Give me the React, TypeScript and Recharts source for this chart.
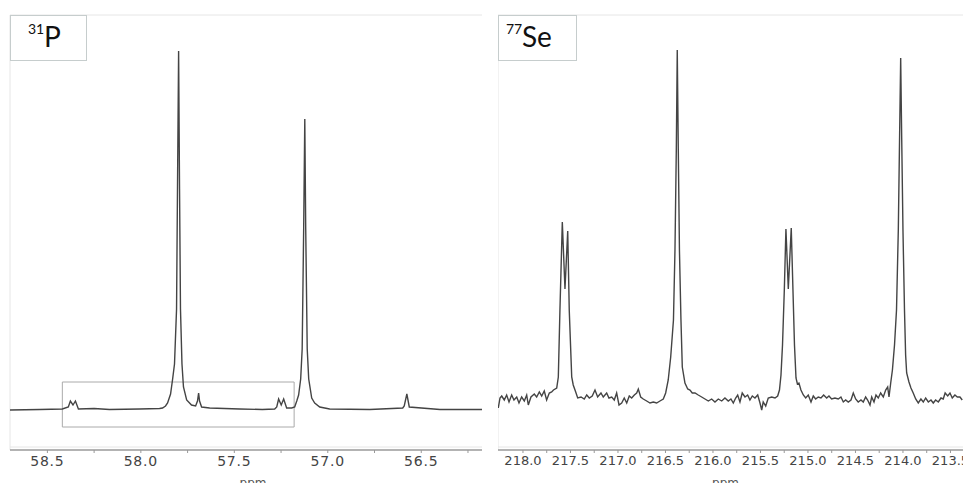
import { LineChart, Line, XAxis, YAxis, ReferenceArea, ReferenceLine } from 'recharts'

// 31P spectrum (ppm, intensity above baseline)
const pShift = [
  58.7, 58.54, 58.42, 58.388, 58.377, 58.363, 58.35, 58.334, 58.25, 58.168, 58.007, 57.9, 57.884,
  57.868, 57.857, 57.841, 57.83, 57.82, 57.809, 57.804, 57.798, 57.793, 57.788, 57.78, 57.772,
  57.755, 57.729, 57.707, 57.697, 57.691, 57.686, 57.675, 57.632, 57.472, 57.35, 57.284, 57.273,
  57.263, 57.249, 57.236, 57.22, 57.193, 57.177, 57.166, 57.156, 57.145, 57.137, 57.129, 57.123,
  57.118, 57.11, 57.102, 57.086, 57.07, 57.043, 56.99, 56.775, 56.599, 56.591, 56.577, 56.564,
  56.4, 56.175,
]
const pIntensity = [
  -1, -0.5, 0, 2, 8, 4, 8, 0, 0.5, -0.5, 0, 0.5, 1,
  3, 6, 15, 30, 45, 100, 220, 358, 220, 100, 45, 22,
  9, 4, 3, 8, 16, 8, 2, 1, 0, -0.5, 0, 2,
  10, 4, 10, 1, 1, 2, 8, 14, 30, 60, 180, 290,
  180, 60, 30, 11, 6, 2, 0, -0.5, 1, 3, 15, 2,
  -0.5, -0.5,
]

// 77Se spectrum (ppm, intensity above baseline)
const seShift = [
  218.26, 218.242, 218.224, 218.197, 218.172, 218.147, 218.119, 218.095, 218.066, 218.042, 218.014,
  217.986, 217.961, 217.944, 217.916, 217.881, 217.856, 217.828, 217.803, 217.776, 217.751, 217.723,
  217.698, 217.679, 217.645, 217.628, 217.611, 217.586, 217.558, 217.529, 217.513, 217.487, 217.471,
  217.445, 217.424, 217.389, 217.355, 217.329, 217.302, 217.271, 217.242, 217.214, 217.179, 217.155,
  217.119, 217.095, 217.066, 217.039, 217.014, 216.989, 216.961, 216.934, 216.908, 216.881, 216.856,
  216.828, 216.803, 216.786, 216.761, 216.734, 216.698, 216.663, 216.628, 216.593, 216.558, 216.523,
  216.498, 216.471, 216.445, 216.416, 216.4, 216.386, 216.376, 216.365, 216.353, 216.337, 216.323,
  216.295, 216.266, 216.242, 216.218, 216.189, 216.155, 216.119, 216.084, 216.049, 216.014, 215.979,
  215.944, 215.908, 215.874, 215.839, 215.811, 215.786, 215.761, 215.74, 215.716, 215.692, 215.663,
  215.635, 215.611, 215.586, 215.558, 215.529, 215.505, 215.487, 215.471, 215.445, 215.418, 215.382,
  215.347, 215.319, 215.3, 215.284, 215.268, 215.249, 215.232, 215.207, 215.176, 215.158, 215.142,
  215.126, 215.111, 215.095, 215.074, 215.049, 215.024, 214.997, 214.968, 214.944, 214.919, 214.892,
  214.863, 214.835, 214.803, 214.779, 214.751, 214.716, 214.681, 214.653, 214.628, 214.603, 214.576,
  214.547, 214.523, 214.498, 214.471, 214.442, 214.418, 214.393, 214.372, 214.347, 214.329, 214.305,
  214.284, 214.26, 214.235, 214.207, 214.182, 214.161, 214.147, 214.129, 214.111, 214.089, 214.068,
  214.049, 214.036, 214.024, 214.013, 214.0, 213.984, 213.972, 213.961, 213.937, 213.916, 213.892,
  213.866, 213.839, 213.811, 213.786, 213.761, 213.733, 213.705, 213.681, 213.656, 213.628, 213.6,
  213.576, 213.556, 213.529, 213.505, 213.481, 213.453, 213.428, 213.4, 213.376,
]
const seIntensity = [
  -8, 2, 4, 0, 5, -2, 5, 0, 3, -3, 3,
  -1, 5, -5, 3, 6, 3, 8, 4, 9, 0, 7,
  8, 10, 12, 23, 90, 178, 111, 169, 90, 23, 15,
  8, 2, 3, 1, 5, 2, 4, 10, 3, 7, 3,
  7, 2, 3, 0, 7, -5, -3, 2, -3, 4, 2,
  5, 7, 11, 3, 1, -1, -3, -2, -3, -1, 1,
  7, 20, 43, 80, 150, 250, 350, 250, 150, 80, 33,
  17, 11, 10, 7, 7, 5, 3, 1, -1, 1, -2,
  1, -1, 2, -1, 1, -3, 2, 5, -2, 7, 3,
  5, 0, 4, 2, 5, -3, -10, -2, -6, 2, 3,
  2, 4, 10, 25, 55, 110, 171, 111, 172, 110, 55,
  22, 16, 17, 10, 5, 2, 5, -2, 4, 1, 3,
  2, 5, 2, 4, 1, 2, 1, 3, -2, 0, -2,
  0, 7, 1, -2, 0, -2, 3, 0, -5, 3, -2,
  5, 2, 7, 3, 10, 13, 3, 17, 30, 55, 90,
  170, 260, 342, 260, 170, 90, 45, 27, 18, 12, 7,
  1, -3, 1, -2, 2, -2, 0, -3, 0, -2, 2,
  1, 7, 4, 7, 2, 5, 3, 3, 0,
]

const pTicks = [58.5, 58.25, 58.0, 57.75, 57.5, 57.25, 57.0, 56.75, 56.5, 56.25]
const seTicks = [
  218.0, 217.75, 217.5, 217.25, 217.0, 216.75, 216.5, 216.25, 216.0, 215.75, 215.5, 215.25,
  215.0, 214.75, 214.5, 214.25, 214.0, 213.75, 213.5,
]

const pDomain = [56.175, 58.7]
const seDomain = [213.368, 218.263]
const pRange = [-41, 394]
const seRange = [-50, 385]

const pData = pShift.map((ppm, i) => ({ ppm, y: pIntensity[i] }))
const seData = seShift.map((ppm, i) => ({ ppm, y: seIntensity[i] }))

const majorOnly = (v: number) => (Math.abs(v * 2 - Math.round(v * 2)) < 1e-6 ? v.toFixed(1) : '')

const frame = '#e6e6e6'
const lineColor = '#444'

function Spectrum({
  data, domain, range, ticks, width, left, fontSize, spacing, labelDx, children,
}: any) {
  return (
    <div style={{ position: 'absolute', left, top: 0 }}>
      <LineChart width={width} height={483} data={data} margin={{ top: 15, right: 0, bottom: 0, left: left === 0 ? 10 : 0 }}>
        <XAxis
          dataKey="ppm"
          type="number"
          domain={domain}
          reversed
          allowDataOverflow
          ticks={ticks}
          tickFormatter={majorOnly}
          interval={0}
          height={33}
          tickSize={3}
          tickMargin={3}
          tick={{ fill: '#444', fontSize, fontFamily: 'DejaVu Sans', letterSpacing: spacing }}
          axisLine={{ stroke: '#9a9a9a', strokeWidth: 1.5 }}
          tickLine={{ stroke: '#999' }}
          label={{ value: 'ppm', position: 'insideBottom', offset: -4, dx: labelDx, fill: '#555', fontSize: 12, fontFamily: 'DejaVu Sans' }}
        />
        <YAxis hide domain={range} allowDataOverflow type="number" />
        <ReferenceLine y={range[1]} stroke={frame} />
        <ReferenceLine x={domain[1]} stroke={frame} />
        <ReferenceLine y={range[0] + 3} stroke={frame} />
        {children}
        <Line
          type="linear"
          dataKey="y"
          stroke={lineColor}
          strokeWidth={1.4}
          dot={false}
          isAnimationActive={false}
        />
      </LineChart>
    </div>
  )
}

export default function App() {
  return (
    <div style={{ position: 'absolute', left: 0, top: 0, width: 963, height: 483, background: '#fff', overflow: 'hidden' }}>
      <Spectrum data={pData} domain={pDomain} range={pRange} ticks={pTicks} width={482} left={0} fontSize={14} spacing={0.8} labelDx={7}>
        <ReferenceArea x1={58.42} x2={57.18} y1={-18} y2={27} fill="none" stroke="#aaa" strokeWidth={1} />
      </Spectrum>
      <Spectrum data={seData} domain={seDomain} range={seRange} ticks={seTicks} width={465} left={498} fontSize={13} spacing={0} labelDx={-5} />
      <svg width={963} height={483} style={{ position: 'absolute', left: 0, top: 0, pointerEvents: 'none' }}>
        <rect x={10.5} y={15.5} width={76} height={45} fill="#fff" stroke="#c6cdcd" />
        <text x={28} y={34} fontSize={14} fontFamily="Lato" fill="#111">31</text>
        <text x={44} y={47} fontSize={28} fontFamily="Lato" fill="#111">P</text>
        <rect x={498.5} y={15.5} width={78} height={45} fill="#fff" stroke="#c6cdcd" />
        <text x={506} y={34} fontSize={14} fontFamily="Lato" fill="#111">77</text>
        <text x={522} y={47} fontSize={28} fontFamily="Lato" fill="#111">Se</text>
      </svg>
    </div>
  )
}
